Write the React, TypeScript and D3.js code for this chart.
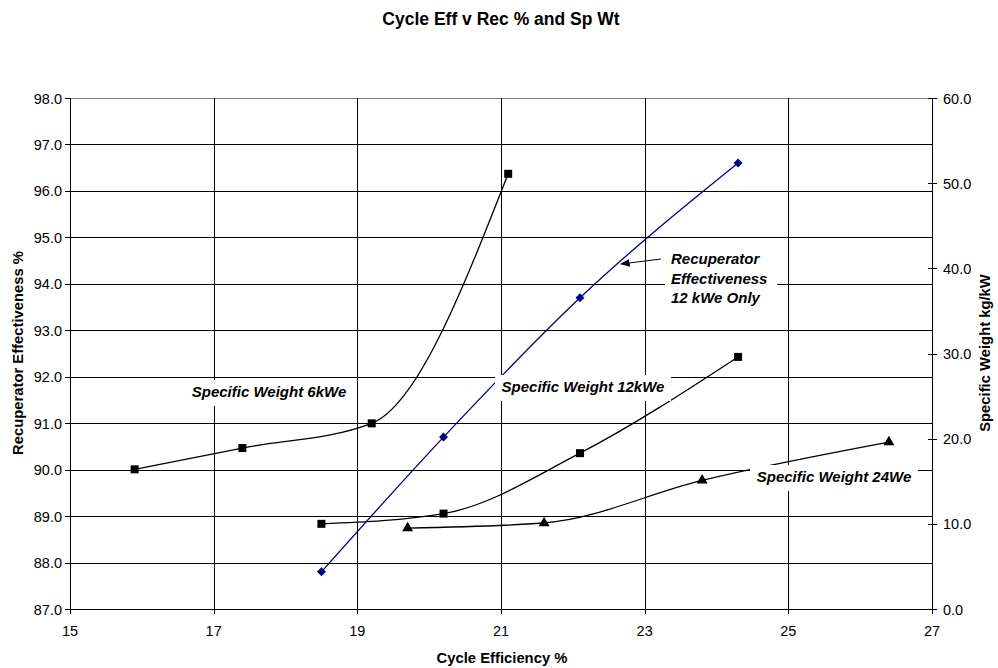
import React from "react";
import * as d3 from "d3";

const xTicks = [15, 17, 19, 21, 23, 25, 27];
const leftTicks = [87, 88, 89, 90, 91, 92, 93, 94, 95, 96, 97, 98];
const rightTicks = [0, 10, 20, 30, 40, 50, 60];

const recupEff12 = [
  { x: 18.5, y: 87.8 },
  { x: 20.2, y: 90.7 },
  { x: 22.1, y: 93.7 },
  { x: 24.3, y: 96.6 },
];
const spWt6 = [
  { x: 15.9, y: 16.4 },
  { x: 17.4, y: 18.9 },
  { x: 19.2, y: 21.8 },
  { x: 21.1, y: 51.1 },
];
const spWt12 = [
  { x: 18.5, y: 10.0 },
  { x: 20.2, y: 11.2 },
  { x: 22.1, y: 18.3 },
  { x: 24.3, y: 29.6 },
];
const spWt24 = [
  { x: 19.7, y: 9.5 },
  { x: 21.6, y: 10.1 },
  { x: 23.8, y: 15.1 },
  { x: 26.4, y: 19.6 },
];

const FONT = "'Liberation Sans', Arial, sans-serif";

export default function App() {
  const W = 998, H = 668;
  const L = 70, R = 932, T = 98, B = 609;
  const x = d3.scaleLinear().domain([15, 27]).range([L, R]);
  const yL = d3.scaleLinear().domain([87, 98]).range([B, T]);
  const yR = d3.scaleLinear().domain([0, 60]).range([B, T]);

  const lineL = d3.line<{ x: number; y: number }>()
    .x(d => x(d.x)).y(d => yL(d.y)).curve(d3.curveMonotoneX);
  const lineR = d3.line<{ x: number; y: number }>()
    .x(d => x(d.x)).y(d => yR(d.y)).curve(d3.curveMonotoneX);

  const sq = 8;
  const tri = d3.symbol().type(d3.symbolTriangle).size(52)();
  const dh = 4.5;
  const dia = `M0,${-dh}L${dh},0L0,${dh}L${-dh},0Z`;

  const label = (txt: string, cx: number, baseline: number, w: number) => (
    <g>
      <rect x={cx - w / 2} y={baseline - 17} width={w} height={26} fill="#fff" />
      <text x={cx} y={baseline} textAnchor="middle" fontSize={15} fontWeight="bold" fontStyle="italic" fill="#000">{txt}</text>
    </g>
  );

  return (
    <svg width={W} height={H} style={{ position: "absolute", left: 0, top: 0, fontFamily: FONT }}>
      <rect width={W} height={H} fill="#fff" />
      <text x={501} y={25} textAnchor="middle" fontSize={17.5} fontWeight="bold">Cycle Eff v Rec % and Sp Wt</text>

      {/* gridlines */}
      {leftTicks.map(t => (
        <line key={"h" + t} x1={L} x2={R} y1={Math.round(yL(t)) + 0.5} y2={Math.round(yL(t)) + 0.5} stroke={t === 98 ? "#808080" : "#000"} strokeWidth={1} />
      ))}
      {xTicks.slice(1, -1).map(t => (
        <line key={"v" + t} x1={Math.round(x(t)) + 0.5} x2={Math.round(x(t)) + 0.5} y1={T} y2={B} stroke="#000" strokeWidth={1} />
      ))}

      {/* axes */}
      <line x1={L + 0.5} x2={L + 0.5} y1={T} y2={B + 5} stroke="#000" />
      <line x1={R + 0.5} x2={R + 0.5} y1={T} y2={B + 5} stroke="#000" />
      <line x1={L} x2={R} y1={B + 0.5} y2={B + 0.5} stroke="#000" />
      {leftTicks.map(t => (
        <g key={"lt" + t}>
          <line x1={L - 5} x2={L} y1={Math.round(yL(t)) + 0.5} y2={Math.round(yL(t)) + 0.5} stroke="#000" />
          <text x={62} y={yL(t) + 5.5} textAnchor="end" fontSize={14.5}>{t.toFixed(1)}</text>
        </g>
      ))}
      {rightTicks.map(t => (
        <g key={"rt" + t}>
          <line x1={R - 4} x2={R + 5} y1={Math.round(yR(t)) + 0.5} y2={Math.round(yR(t)) + 0.5} stroke="#000" />
          <text x={943} y={yR(t) + 5.5} textAnchor="start" fontSize={14.5}>{t.toFixed(1)}</text>
        </g>
      ))}
      {xTicks.map(t => (
        <g key={"xt" + t}>
          <line x1={Math.round(x(t)) + 0.5} x2={Math.round(x(t)) + 0.5} y1={B} y2={B + 5} stroke="#000" />
          <text x={x(t)} y={636} textAnchor="middle" fontSize={14.5}>{t}</text>
        </g>
      ))}

      <text x={502} y={663} textAnchor="middle" fontSize={14.8} fontWeight="bold">Cycle Efficiency %</text>
      <text transform={`translate(23,353) rotate(-90)`} textAnchor="middle" fontSize={14.8} fontWeight="bold">Recuperator Effectiveness %</text>
      <text transform={`translate(990,353) rotate(-90)`} textAnchor="middle" fontSize={14.8} fontWeight="bold">Specific Weight kg/kW</text>

      {/* series */}
      <path d={lineR(spWt6) || ""} fill="none" stroke="#000" strokeWidth={1.3} />
      <path d={lineR(spWt12) || ""} fill="none" stroke="#000" strokeWidth={1.3} />
      <path d={lineR(spWt24) || ""} fill="none" stroke="#000" strokeWidth={1.3} />
      <path d={lineL(recupEff12) || ""} fill="none" stroke="#000080" strokeWidth={1.3} />

      {/* labels with white boxes */}
      {label("Specific Weight 6kWe", 269, 397, 170)}
      {label("Specific Weight 12kWe", 583, 392, 176)}
      {label("Specific Weight 24We", 834, 482, 168)}
      <rect x={665} y={248} width={112} height={60} fill="#fff" />
      <text fontSize={15} fontWeight="bold" fontStyle="italic">
        <tspan x={671} y={264}>Recuperator</tspan>
        <tspan x={671} y={283.5}>Effectiveness</tspan>
        <tspan x={671} y={303}>12 kWe Only</tspan>
      </text>
      <defs>
        <marker id="ah" viewBox="0 0 10 10" refX={9} refY={5} markerWidth={8} markerHeight={8} orient="auto">
          <path d="M0,1 L10,5 L0,9 Z" fill="#000" />
        </marker>
      </defs>
      <line x1={661} y1={259} x2={621} y2={264} stroke="#000" strokeWidth={1.2} markerEnd="url(#ah)" />

      {spWt6.map((d, i) => (
        <rect key={"s6" + i} x={x(d.x) - sq / 2} y={yR(d.y) - sq / 2} width={sq} height={sq} fill="#000" />
      ))}
      {spWt12.map((d, i) => (
        <rect key={"s12" + i} x={x(d.x) - sq / 2} y={yR(d.y) - sq / 2} width={sq} height={sq} fill="#000" />
      ))}
      {spWt24.map((d, i) => (
        <path key={"s24" + i} d={tri || ""} transform={`translate(${x(d.x)},${yR(d.y)})`} fill="#000" />
      ))}
      {recupEff12.map((d, i) => (
        <path key={"r" + i} d={dia} transform={`translate(${x(d.x)},${yL(d.y)})`} fill="#000080" />
      ))}
    </svg>
  );
}
